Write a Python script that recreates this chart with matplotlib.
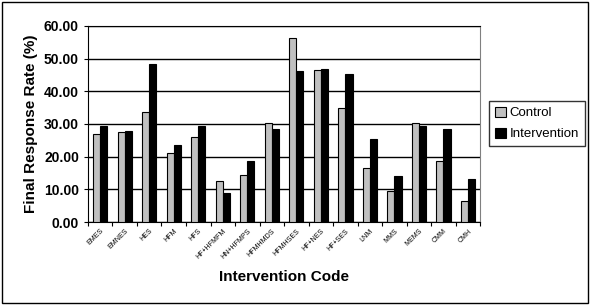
import matplotlib.pyplot as plt
import numpy as np
from matplotlib.patches import Rectangle

plt.rcParams['font.family'] = ['Liberation Sans', 'DejaVu Sans']

# Intervention codes (small rotated labels, read as well as possible)
codes = ['EMES', 'EMNES', 'HES', 'HFM', 'HFS', 'HF+HFMFM', 'HN+HFMPS', 'HFMHMDS',
         'HFMHSES', 'HF+NES', 'HF+SES', 'LNM', 'MMS', 'MEMS', 'CMM', 'CMH']
control = [27.0, 27.6, 33.7, 21.2, 26.1, 12.6, 14.5, 30.4,
           56.2, 46.6, 35.0, 16.6, 9.5, 30.4, 18.7, 6.4]
intervention = [29.5, 27.9, 48.5, 23.6, 29.5, 9.0, 18.8, 28.5,
                46.3, 46.7, 45.3, 25.3, 14.0, 29.5, 28.5, 13.3]
yticks = [0, 10, 20, 30, 40, 50, 60]

fig = plt.figure(figsize=(5.9, 3.05), dpi=100)
ax = fig.add_axes([0.149, 0.272, 0.665, 0.643])

x = np.arange(len(codes))
w = 0.29
ax.bar(x - w / 2, control, w, color='#c0c0c0', edgecolor='black', linewidth=0.8,
       label='Control', zorder=3)
ax.bar(x + w / 2, intervention, w, color='black', edgecolor='black', linewidth=0.8,
       label='Intervention', zorder=3)

ax.set_ylim(0, 60)
ax.set_xlim(-0.5, len(codes) - 0.5)
ax.set_yticks(yticks)
ax.set_yticklabels([f'{v:.2f}' for v in yticks], fontsize=10, fontweight='bold')
ax.yaxis.grid(True, color='black', linewidth=1.0, zorder=0)

# category labels between boundary ticks
ax.set_xticks(x)
ax.set_xticklabels(codes, rotation=45, ha='right', rotation_mode='anchor', fontsize=5)
ax.tick_params(axis='x', length=0, pad=4)
ax.set_xticks(np.arange(len(codes) + 1) - 0.5, minor=True)
ax.tick_params(axis='x', which='minor', length=3, width=0.8)
ax.tick_params(axis='y', length=3, width=0.8)

for s in ['left', 'bottom', 'top']:
    ax.spines[s].set_color('black')
ax.spines['right'].set_color('#808080')

ax.set_ylabel('Final Response Rate (%)', fontsize=11, fontweight='bold')
ax.set_xlabel('Intervention Code', fontsize=11, fontweight='bold', labelpad=7)

leg = fig.legend(loc='center left', bbox_to_anchor=(0.829, 0.595), fontsize=9.5,
                 frameon=True, fancybox=False, edgecolor='black', handlelength=0.8,
                 handleheight=0.8, handletextpad=0.3, borderpad=0.45, labelspacing=0.65,
                 borderaxespad=0)
leg.get_frame().set_linewidth(1.0)

# outer chart border
fig.patches.append(Rectangle((0.003, 0.005), 0.994, 0.99, transform=fig.transFigure,
                             fill=False, edgecolor='black', linewidth=1.0))

fig.savefig('out.png', dpi=100)
